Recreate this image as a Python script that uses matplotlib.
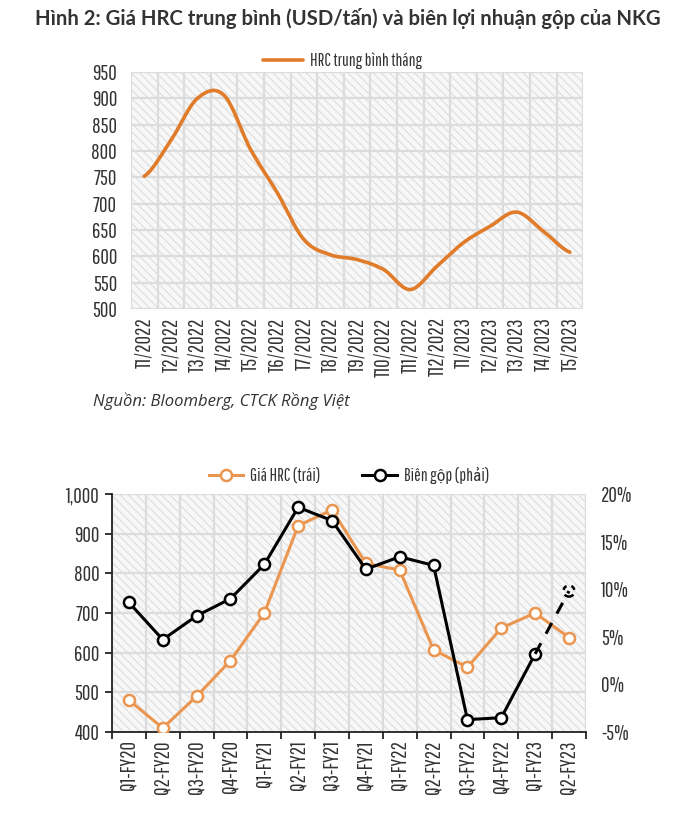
import matplotlib
matplotlib.use("Agg")
import matplotlib.pyplot as plt
import numpy as np
from matplotlib import font_manager as fm
from matplotlib.patches import Rectangle
from matplotlib.ticker import FuncFormatter

# --- dữ liệu ---
MONTHS = ["T1/2022", "T2/2022", "T3/2022", "T4/2022", "T5/2022", "T6/2022", "T7/2022",
          "T8/2022", "T9/2022", "T10/2022", "T11/2022", "T12/2022", "T1/2023", "T2/2023",
          "T3/2023", "T4/2023", "T5/2023"]
HRC_MONTH = [752, 820, 900, 906, 803, 721, 632, 603, 594, 575, 537, 581, 626, 657, 684, 648, 608]

QUARTERS = ["Q1-FY20", "Q2-FY20", "Q3-FY20", "Q4-FY20", "Q1-FY21", "Q2-FY21", "Q3-FY21",
            "Q4-FY21", "Q1-FY22", "Q2-FY22", "Q3-FY22", "Q4-FY22", "Q1-FY23", "Q2-FY23"]
HRC_Q = [480, 410, 490, 580, 700, 920, 960, 825, 808, 607, 563, 662, 700, 638]
MARGIN_Q = [8.6, 4.7, 7.2, 9.0, 12.6, 18.6, 17.2, 12.1, 13.4, 12.5, -3.7, -3.5, 3.2, 9.8]

# font hẹp nếu có
_have = {f.name for f in fm.fontManager.ttflist}
_cands = ["Pathway Gothic One", "Roboto Condensed", "Archivo Narrow", "Oswald",
          "Liberation Sans Narrow", "DejaVu Sans"]
NARROW = [f for f in _cands if f in _have] or ["DejaVu Sans"]
_k = 1.0 if NARROW[0] == "Pathway Gothic One" else 0.75
NSIZE = 15 * _k
LSIZE = 12.5 * _k
TXT = "#333333"
ORANGE_TOP = "#E07B2A"
ORANGE = "#EB9650"
plt.rcParams["hatch.linewidth"] = 0.8
plt.rcParams["hatch.color"] = "#dedede"


def catmull_rom(y, n=20):
    y = np.asarray(y, float)
    p = np.concatenate([[y[0]], y, [y[-1]]])
    xs, ys = [], []
    for i in range(len(y) - 1):
        p0, p1, p2, p3 = p[i], p[i + 1], p[i + 2], p[i + 3]
        t = np.linspace(0, 1, n, endpoint=False)
        yy = 0.5 * (2 * p1 + (-p0 + p2) * t + (2 * p0 - 5 * p1 + 4 * p2 - p3) * t ** 2
                    + (-p0 + 3 * p1 - 3 * p2 + p3) * t ** 3)
        xs.append(i + t); ys.append(yy)
    xs.append([len(y) - 1]); ys.append([y[-1]])
    return np.concatenate(xs), np.concatenate(ys)


def hatch_bg(ax):
    ax.set_facecolor("#f8f8f8")
    ax.add_patch(Rectangle((0, 0), 1, 1, transform=ax.transAxes, facecolor="none",
                           edgecolor="#dedede", hatch="\\\\\\\\", lw=0, zorder=0))


fig = plt.figure(figsize=(7, 8.23), dpi=100)
fig.text(0.497, 0.978, "Hình 2: Giá HRC trung bình (USD/tấn) và biên lợi nhuận gộp của NKG",
         ha="center", va="center", fontsize=14.6, fontweight="bold", family="Lato", color=TXT)

# --- Biểu đồ trên: HRC trung bình tháng ---
ax1 = fig.add_axes([0.187, 0.6245, 0.646, 0.288])
hatch_bg(ax1)
xs, ys = catmull_rom(HRC_MONTH)
ax1.plot(xs, ys, color=ORANGE_TOP, lw=2.6, solid_capstyle="round", label="HRC trung bình tháng", zorder=3)
ax1.set_xlim(-0.5, len(MONTHS) - 0.5)
ax1.set_ylim(500, 950)
ax1.set_yticks(range(500, 951, 50))
ax1.set_xticks(np.arange(len(MONTHS) + 1) - 0.5)
ax1.set_xticklabels([])
ax1.set_xticks(np.arange(len(MONTHS)), minor=True)
ax1.set_xticklabels(MONTHS, minor=True, rotation=90)
ax1.grid(True, which="major", color="#dcdcdc", lw=1.6, zorder=1)
ax1.set_axisbelow(True)
for s in ax1.spines.values():
    s.set_visible(False)
ax1.tick_params(axis="both", which="both", length=0, colors=TXT, labelsize=NSIZE)
ax1.tick_params(axis="y", pad=10)
ax1.tick_params(axis="x", which="minor", pad=6)
for lab in ax1.get_yticklabels() + ax1.get_xticklabels(minor=True):
    lab.set_family(NARROW)
ax1.legend(loc="center", bbox_to_anchor=(0.467, 1.048), frameon=False, handlelength=2.3,
           handletextpad=0.4, prop={"family": NARROW, "size": LSIZE}, labelcolor=TXT)

fig.text(0.133, 0.512, "Nguồn: Bloomberg, CTCK Rồng Việt", fontsize=12, style="italic",
         family="Open Sans", color=TXT, va="center")

# --- Biểu đồ dưới: giá HRC quý và biên gộp ---
ax2 = fig.add_axes([0.16, 0.1106, 0.677, 0.2892])
hatch_bg(ax2)
x = np.arange(len(QUARTERS))
ax2.plot(x, HRC_Q, color=ORANGE, lw=2.2, marker="o", ms=8, mfc="white", mec=ORANGE, mew=1.8,
         label="Giá HRC (trái)", zorder=3)
ax2.set_xlim(-0.5, len(QUARTERS) - 0.5)
ax2.set_ylim(400, 1000)
ax2.set_yticks(range(400, 1001, 100))
ax2.yaxis.set_major_formatter(FuncFormatter(lambda v, p: f"{v:,.0f}"))
ax2.set_xticks(np.arange(len(QUARTERS) + 1) - 0.5)
ax2.set_xticklabels([])
ax2.set_xticks(x, minor=True)
ax2.set_xticklabels(QUARTERS, minor=True, rotation=90)
ax2.grid(True, which="major", color="#dcdcdc", lw=1.6, zorder=1)
ax2.set_axisbelow(True)
ax2.spines["top"].set_visible(False)
ax2.spines["right"].set_visible(False)
for side in ("left", "bottom"):
    ax2.spines[side].set_color("#222222")
    ax2.spines[side].set_linewidth(1.3)
ax2.tick_params(axis="both", which="major", length=5, width=1.3, color="#222222", colors=TXT,
                labelsize=NSIZE)
ax2.tick_params(axis="x", which="minor", length=0, pad=6, colors=TXT, labelsize=NSIZE)
ax2.tick_params(axis="y", pad=4)
for lab in ax2.get_yticklabels() + ax2.get_xticklabels(minor=True):
    lab.set_family(NARROW)

ax3 = ax2.twinx()
for s in ax3.spines.values():
    s.set_visible(False)
ax3.plot(x[:-1], MARGIN_Q[:-1], color="black", lw=2.2, marker="o", ms=8, mfc="white", mec="black",
         mew=1.8, label="Biên gộp (phải)", zorder=4)
ax3.plot(x[-2:], MARGIN_Q[-2:], color="black", lw=2.2, ls=(0, (4, 3.5)), zorder=4)
ax3.scatter(x[-1:], MARGIN_Q[-1:], s=64, facecolors="none", edgecolors="black", linewidths=1.8,
            linestyles=(0, (2, 2)), zorder=5)
ax3.set_ylim(-5, 20)
ax3.set_yticks(range(-5, 21, 5))
ax3.yaxis.set_major_formatter(FuncFormatter(lambda v, p: f"{v:.0f}%"))
ax3.tick_params(axis="y", length=0, pad=11, colors=TXT, labelsize=NSIZE)
for lab in ax3.get_yticklabels():
    lab.set_family(NARROW)

h1, l1 = ax2.get_legend_handles_labels()
h3, l3 = ax3.get_legend_handles_labels()
ax3.legend(h1 + h3, l1 + l3, loc="center", bbox_to_anchor=(0.5, 1.076), ncol=2,
           frameon=False, handlelength=2.0, handletextpad=0.4, columnspacing=2.4,
           prop={"family": NARROW, "size": LSIZE}, labelcolor=TXT)

fig.savefig("out.png", dpi=100)
